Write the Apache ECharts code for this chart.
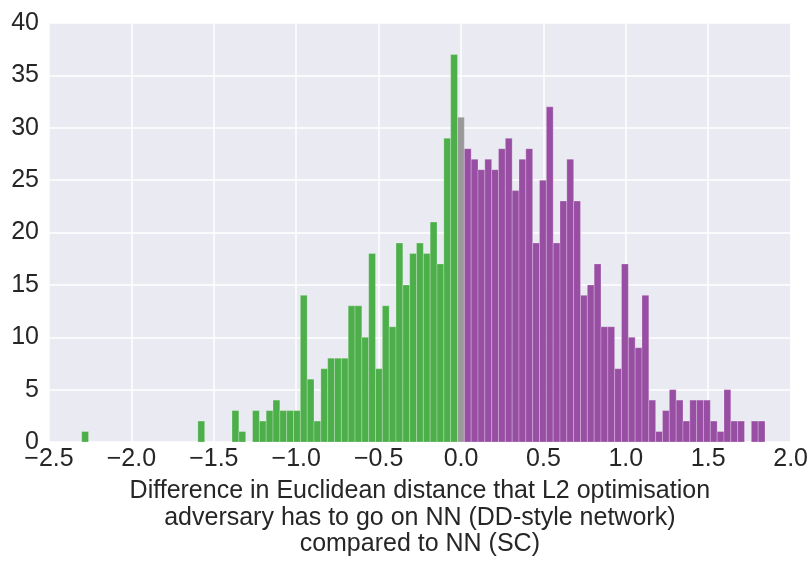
<!DOCTYPE html>
<html><head><meta charset="utf-8">
<script src="https://cdn.jsdelivr.net/npm/echarts@6/dist/echarts.min.js"></script>
<style>html,body{margin:0;padding:0;background:#fff}#c{width:811px;height:564px}</style>
</head><body><div id="c"></div>
<script>
// Histogram: 100 equal bins
const binStart = -2.3016;
const binWidth = 0.04146;
const counts = [
  1,0,0,0,0,0,0,0,0,0,
  0,0,0,0,0,0,0,2,0,0,
  0,0,3,1,0,3,2,3,4,3,
  3,3,14,6,2,7,8,8,8,13,
  13,10,18,7,13,11,19,15,18,19,
  18,21,17,29,37,31,28,27,26,27,
  26,28,29,24,27,28,19,25,32,19,
  23,27,23,14,15,17,11,11,7,17,
  10,9,14,4,1,3,5,4,2,4,
  4,4,2,1,5,2,2,0,2,2
];
const xTicks = [-2.5,-2.0,-1.5,-1.0,-0.5,0.0,0.5,1.0,1.5,2.0];
const yTicks = [0,5,10,15,20,25,30,35,40];
const axisTitle = 'Difference in Euclidean distance that L2 optimisation\nadversary has to go on NN (DD-style network)\ncompared to NN (SC)';
const colors = { neg: '#4daf4a', zero: '#999999', pos: '#984ea3' };

const data = counts.map((c, i) => {
  const x0 = binStart + i * binWidth;
  const x1 = x0 + binWidth;
  const grp = (x0 < 0 && x1 > 0) ? 'zero' : (x1 <= 0 ? 'neg' : 'pos');
  return [x0, x1, c, grp];
});

const font = "'Liberation Sans', Arial, sans-serif";
const chart = echarts.init(document.getElementById('c'), null, { renderer: 'canvas' });
chart.setOption({
  animation: false,
  backgroundColor: '#ffffff',
  grid: { left: 49, right: 20, top: 23, bottom: 122, containLabel: false,
          show: true, backgroundColor: '#EAEAF2', borderWidth: 0 },
  xAxis: {
    type: 'value', min: xTicks[0], max: xTicks[xTicks.length - 1], interval: 0.5,
    axisLine: { show: false }, axisTick: { show: false },
    splitLine: { show: true, lineStyle: { color: '#ffffff', width: 1.5 } },
    axisLabel: { color: '#262626', fontFamily: font, fontSize: 25, margin: 5,
      formatter: v => (v < 0 ? '\u2212' : '') + Math.abs(v).toFixed(1) },
    name: axisTitle, nameLocation: 'middle', nameGap: 36,
    nameTextStyle: { color: '#262626', fontFamily: font, fontSize: 25, lineHeight: 26.5, align: 'center', verticalAlign: 'top' }
  },
  yAxis: {
    type: 'value', min: yTicks[0], max: yTicks[yTicks.length - 1], interval: 5,
    axisLine: { show: false }, axisTick: { show: false },
    splitLine: { show: true, lineStyle: { color: '#ffffff', width: 1.5 } },
    axisLabel: { color: '#262626', fontFamily: font, fontSize: 25, margin: 10 }
  },
  series: [{
    type: 'custom',
    data: data,
    encode: { x: [0, 1], y: 2 },
    renderItem: function (params, api) {
      const x0 = api.value(0), x1 = api.value(1), c = api.value(2);
      if (!c) return null;
      const grp = data[params.dataIndex][3];
      const p0 = api.coord([x0, c]);
      const p1 = api.coord([x1, 0]);
      return {
        type: 'rect',
        shape: { x: p0[0], y: p0[1], width: p1[0] - p0[0], height: p1[1] - p0[1] },
        style: { fill: colors[grp], stroke: 'rgba(255,255,255,0.35)', lineWidth: 0.7 }
      };
    }
  }]
});
</script></body></html>
